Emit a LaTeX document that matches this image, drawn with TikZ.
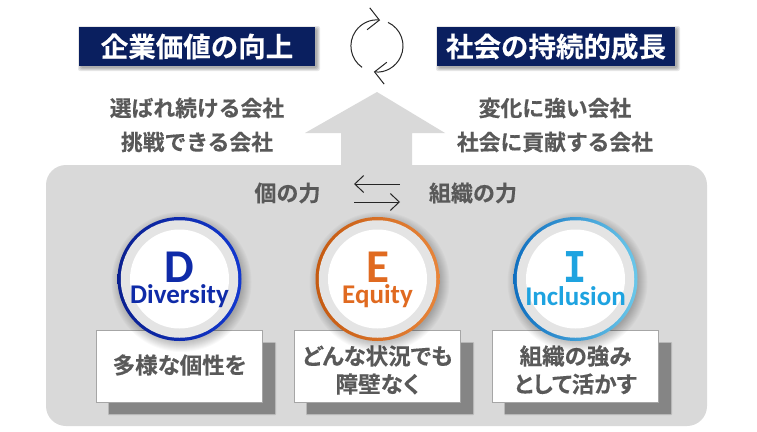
\documentclass[tikz,border=0pt]{standalone}
\usepackage{fontspec}
\setmainfont{Noto Sans CJK JP}[BoldFont={Noto Sans CJK JP Bold},BoldFeatures={FakeBold=0.25}]
\newfontfamily\palfont{Noto Sans CJK JP Bold}[RawFeature={+palt},FakeBold=0.25]
\newfontfamily\latinfont{Carlito}[BoldFont={Carlito Bold}]
\newfontfamily\ifont{Liberation Mono}[BoldFont={Liberation Mono Bold}]
\usetikzlibrary{arrows.meta}
\definecolor{navy}{HTML}{0A1F5F}
\definecolor{panelgrey}{HTML}{D9D9D9}
\definecolor{ringgrey}{HTML}{E4E4E4}
\definecolor{txtgrey}{HTML}{595959}
\definecolor{dblue}{HTML}{0F2BA8}
\definecolor{eorange}{HTML}{E06A20}
\definecolor{iblue}{HTML}{1EA3E0}
\definecolor{shadowgrey}{HTML}{858585}
\tikzset{
  x=1pt,y=-1pt,
  titlebox/.style={fill=navy,text=white,minimum height=39pt,inner sep=0pt,font=\fontsize{27.5}{27.5}\bfseries\selectfont},
  softrect/.style={fill=black,fill opacity=0.09,rounded corners=2pt},
  softring/.style={fill=black,fill opacity=0.022},
  softcap/.style={fill=shadowgrey,fill opacity=0.4,rounded corners=1pt},
  bodytxt/.style={text=txtgrey,align=center,inner sep=0pt,font=\fontsize{21.8}{34}\bfseries\selectfont},
  captxt/.style={text=txtgrey,inner sep=0pt,font=\fontsize{22}{22}\bfseries\selectfont},
  ring/.style={circle,minimum size=124pt,inner sep=0pt},
  ringin/.style={circle,fill=ringgrey,minimum size=117.5pt,inner sep=0pt},
  core/.style={circle,fill=white,minimum size=99pt,inner sep=0pt},
  bigl/.style={inner sep=0pt,font=\fontsize{47}{47}\latinfont\bfseries\selectfont},
  word/.style={inner sep=0pt,font=\fontsize{27}{27}\latinfont\bfseries\selectfont},
  capbox/.style={fill=white,draw=black!35,line width=1pt,minimum width=166pt,minimum height=72pt,inner sep=0pt},
  captext/.style={inner sep=0pt,align=center,text=txtgrey,font=\fontsize{22.5}{28}\palfont\selectfont},
  capshadow/.style={fill=shadowgrey,minimum width=166pt,minimum height=71pt,inner sep=0pt},
  thinarrow/.style={line width=1pt,black!85,-{Straight Barb[length=9pt,width=17pt,line width=1pt]}},
  cyclearrow/.style={line width=1pt,black!85,-{Straight Barb[length=11pt,width=22pt,line width=1pt]}},
}
\begin{document}
\begin{tikzpicture}
\useasboundingbox (0,0) rectangle (757,431);
\fill[white] (0,0) rectangle (757,431);
% panel and big arrow
\path[fill=panelgrey] (341,170) -- (341,133) -- (305,133) -- (377,92) -- (445,133) -- (412,133) -- (412,170) -- cycle;
\node[fill=panelgrey,rounded corners=20pt,minimum width=661pt,minimum height=261pt,inner sep=0pt] (panel) at (376.5,295.5) {};
% title shadows
\foreach \g in {0,1,2,3}{
  \path[softrect] (81-\g,29-\g) rectangle (317+\g,68+\g);
  \path[softrect] (439-\g,29-\g) rectangle (677+\g,68+\g);
}
% titles
\node[titlebox,minimum width=236pt] (t1) at (197,46.5) {企業価値の向上};
\node[titlebox,minimum width=238pt] (t2) at (556,46.5) {社会の持続的成長};
% cycle arrows
\coordinate (ca1) at (362,67.3);
\coordinate (ca2) at (388,22.4);
\draw[cyclearrow] (ca1) arc[start angle=235,end angle=83,radius=26pt];
\draw[cyclearrow] (ca2) arc[start angle=65,end angle=-97,radius=26pt];
% texts
\node[bodytxt] (l1) at (197,125) {選ばれ続ける会社\\挑戦できる会社};
\node[bodytxt] (r1) at (555,125) {変化に強い会社\\社会に貢献する会社};
\node[captxt] (cap1) at (287.5,193) {個の力};
\node[captxt] (cap2) at (473,193) {組織の力};
\coordinate (a1s) at (400,184);
\coordinate (a1e) at (354,184);
\coordinate (a2s) at (354,202);
\coordinate (a2e) at (400,202);
\draw[thinarrow] (a1s) -- (a1e);
\draw[thinarrow] (a2s) -- (a2e);
% caption boxes
\foreach \cx/\nm/\dy/\txt in {179.5/d/365/{多様な個性を}, 377.5/e/370/{どんな状況でも\\障壁なく}, 575.5/i/370/{組織の強み\\として活かす}}{
  \path[softcap] (\cx+12.5-84,343-1) rectangle (\cx+12.5+84,414+1);
  \node[capshadow] (s\nm) at (\cx+12.5,378.5) {};
  \node[capbox] (b\nm) at (\cx,366) {};
  \node[captext] (f\nm) at (\cx,\dy) {\txt};
}
% circles
\foreach \cx/\nm/\ca/\cb in {179.5/d/0A1F8F/1238D0, 377.5/e/C55A11/E8853A, 575.5/i/0F6FC0/6BC8EA}{
  \definecolor{ca}{HTML}{\ca}\definecolor{cb}{HTML}{\cb}
  \foreach \g in {0,1,...,10}{
    \path[softring] (\cx+2,279+3) circle[radius=60pt+\g pt];
  }
  \node[ring,left color=ca,right color=cb] (o\nm) at (\cx,279) {};
  \node[ringin] (m\nm) at (\cx,279) {};
  \node[core] (c\nm) at (\cx,279) {};
}
\node[bigl,text=dblue] (ld) at (179.5,267) {D};
\node[word,text=dblue] (wd) at (179.5,296) {Diversity};
\node[bigl,text=eorange] (le) at (377.5,267) {E};
\node[word,text=eorange] (we) at (377.5,296) {Equity};
\node[inner sep=0pt,text=iblue,font=\fontsize{47}{47}\ifont\bfseries\selectfont] (li) at (575.5,267) {\scalebox{0.82}[1]{I}};
\node[word,text=iblue] (wi) at (575.5,296) {Inclusion};
\end{tikzpicture}
\end{document}
